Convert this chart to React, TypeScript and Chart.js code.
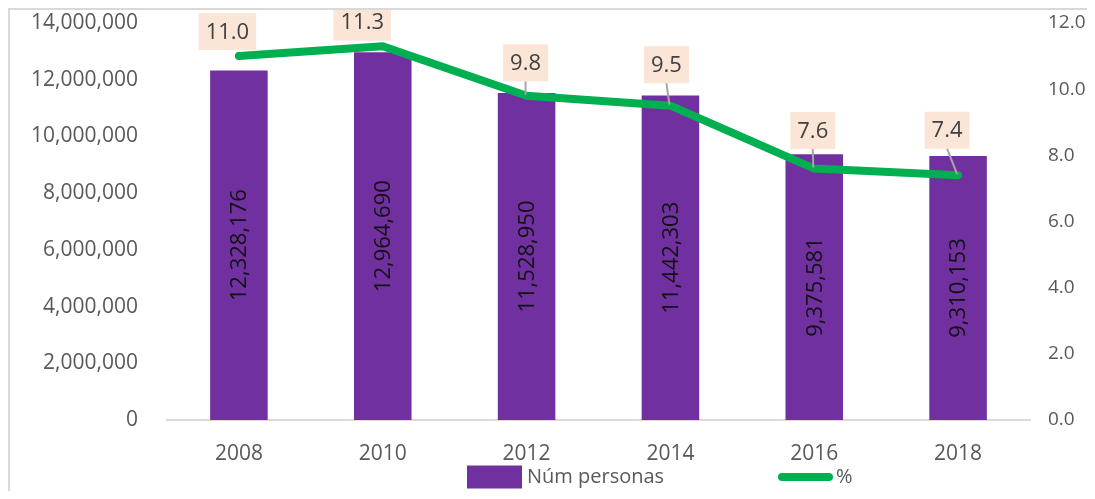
import React, { useEffect, useRef } from "react";
import { Chart, registerables } from "chart.js";

Chart.register(...registerables);

const years = ["2008", "2010", "2012", "2014", "2016", "2018"];
const personas = [12328176, 12964690, 11528950, 11442303, 9375581, 9310153];
const porcentaje = [11.0, 11.3, 9.8, 9.5, 7.6, 7.4];
const seriesLabels = ["Núm personas", "%"];

// label box offsets (px) from each % point: style only
const pctLabelOffsets = [
  [-11.5, -24.5],
  [-20.5, -24],
  [-1, -33],
  [-4, -41],
  [-1.5, -38],
  [-11, -45],
];

const PURPLE = "#7030A0";
const GREEN = "#00B050";
const PEACH = "#FBE5D6";
const FONT = '"Open Sans", "DejaVu Sans", sans-serif';

const labelsPlugin = {
  id: "labelsPlugin",
  afterDatasetsDraw(chart: any) {
    const ctx = chart.ctx;
    const barMeta = chart.getDatasetMeta(0);
    barMeta.data.forEach((bar: any, i: number) => {
      const cy = (bar.y + bar.base) / 2;
      ctx.save();
      ctx.translate(bar.x, cy);
      ctx.rotate(-Math.PI / 2);
      ctx.font = `22px ${FONT}`;
      ctx.fillStyle = "#111111";
      ctx.textAlign = "center";
      ctx.textBaseline = "middle";
      ctx.fillText(personas[i].toLocaleString("en-US"), 0, 1);
      ctx.restore();
    });

    const lineMeta = chart.getDatasetMeta(1);
    lineMeta.data.forEach((pt: any, i: number) => {
      const [dx, dy] = pctLabelOffsets[i];
      const cx = pt.x + dx;
      const cy = pt.y + dy;
      const text = porcentaje[i].toFixed(1);
      ctx.save();
      ctx.font = `22px ${FONT}`;
      const w = ctx.measureText(text).width + 14;
      const h = 37;
      const bottom = cy + h / 2;
      if (pt.y - bottom > 8) {
        ctx.strokeStyle = "#A6A6A6";
        ctx.lineWidth = 2;
        ctx.beginPath();
        ctx.moveTo(cx, bottom);
        ctx.lineTo(pt.x - 1, pt.y - 1);
        ctx.stroke();
      }
      ctx.fillStyle = PEACH;
      ctx.fillRect(cx - w / 2, cy - h / 2, w, h);
      ctx.fillStyle = "#404040";
      ctx.textAlign = "center";
      ctx.textBaseline = "middle";
      ctx.fillText(text, cx, cy + 1);
      ctx.restore();
    });
  },
  afterDraw(chart: any) {
    const ctx = chart.ctx;
    const area = chart.chartArea;
    const x0 = area.left + 300;
    const cy = area.bottom + 57;
    ctx.save();
    ctx.fillStyle = PURPLE;
    ctx.fillRect(x0, cy - 11.5, 55, 23);
    ctx.font = `20px ${FONT}`;
    ctx.fillStyle = "#595959";
    ctx.textAlign = "left";
    ctx.textBaseline = "middle";
    ctx.fillText(seriesLabels[0], x0 + 60, cy);
    const x2 = x0 + 311;
    ctx.strokeStyle = GREEN;
    ctx.lineWidth = 8;
    ctx.lineCap = "round";
    ctx.beginPath();
    ctx.moveTo(x2 + 4, cy);
    ctx.lineTo(x2 + 51, cy);
    ctx.stroke();
    ctx.fillText(seriesLabels[1], x2 + 58, cy);
    ctx.restore();
  },
};

export default function App() {
  const ref = useRef<HTMLCanvasElement | null>(null);

  useEffect(() => {
    if (!ref.current) return;
    const chart = new Chart(ref.current, {
      type: "bar",
      data: {
        labels: years,
        datasets: [
          {
            type: "bar",
            label: seriesLabels[0],
            data: personas,
            backgroundColor: PURPLE,
            borderWidth: 0,
            categoryPercentage: 1,
            barPercentage: 0.4,
            yAxisID: "y",
            order: 1,
          },
          {
            type: "line",
            label: seriesLabels[1],
            data: porcentaje,
            borderColor: GREEN,
            backgroundColor: GREEN,
            borderWidth: 8,
            borderCapStyle: "round",
            borderJoinStyle: "round",
            pointRadius: 0,
            tension: 0,
            yAxisID: "y1",
            order: 0,
          },
        ],
      } as any,
      options: {
        animation: false,
        responsive: true,
        maintainAspectRatio: false,
        layout: { padding: { top: 13, left: 0, right: 0, bottom: 0 } },
        plugins: {
          legend: { display: false },
          tooltip: { enabled: false },
        },
        scales: {
          x: {
            grid: { display: false, drawTicks: false },
            border: { display: true, color: "#D9D9D9", width: 2 },
            ticks: { font: { size: 21, family: FONT }, color: "#595959", padding: 21 },
            afterFit: (s: any) => {
              s.height = 71;
            },
          },
          y: {
            position: "left",
            min: 0,
            max: 14000000,
            grid: { display: false, drawTicks: true, tickLength: 29 },
            border: { display: false },
            ticks: {
              stepSize: 2000000,
              font: { size: 21, family: FONT },
              color: "#595959",
              padding: 0,
              callback: (v: any) => Number(v).toLocaleString("en-US"),
            },
            afterFit: (s: any) => {
              s.width = 157;
            },
          },
          y1: {
            position: "right",
            min: 0,
            max: 12,
            grid: { display: false, drawTicks: true, tickLength: 18 },
            border: { display: false },
            ticks: {
              stepSize: 2,
              font: { size: 19, family: FONT },
              color: "#595959",
              padding: 0,
              callback: (v: any) => Number(v).toFixed(1),
            },
            afterFit: (s: any) => {
              s.width = 65;
            },
          },
        },
      } as any,
      plugins: [labelsPlugin],
    });
    return () => chart.destroy();
  }, []);

  return (
    <div
      style={{
        position: "relative",
        width: 1085,
        height: 481,
        borderTop: "2px solid #D9D9D9",
        borderLeft: "2px solid #D9D9D9",
        background: "#ffffff",
      }}
    >
      <canvas ref={ref} />
    </div>
  );
}
